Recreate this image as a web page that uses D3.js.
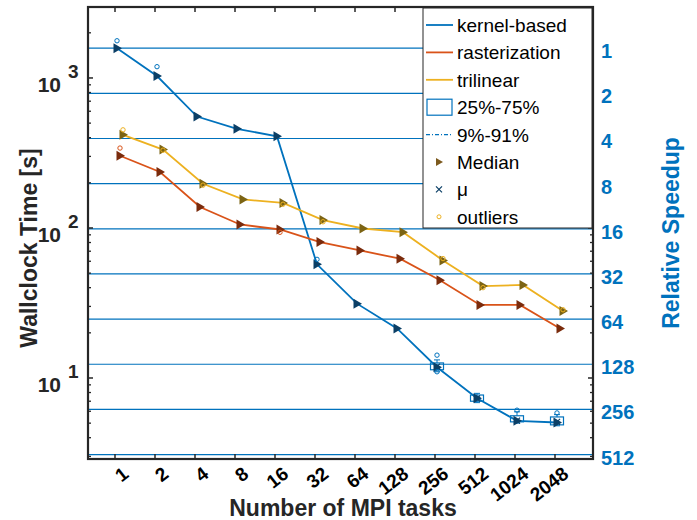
<!DOCTYPE html>
<html>
<head>
<meta charset="utf-8">
<script src="https://cdn.jsdelivr.net/npm/d3@7"></script>
<style>
body { margin: 0; background: #fff; }
text { font-family: "Liberation Sans", Arial, sans-serif; }
</style>
</head>
<body>
<div id="chart"></div>
<script>
// data
var tasks = ["1", "2", "4", "8", "16", "32", "64", "128", "256", "512", "1024", "2048"];
var kernelMedian = [1580, 1030, 553, 458, 408, 57.2, 31.3, 21.4, 11.8, 7.33, 5.18, 5.05];
var rasterMedian = [303, 236, 138, 105.5, 97.7, 80.6, 70.8, 62.4, 44.8, 30.7, 30.7, 21.4];
var trilinearMedian = [418, 333, 197, 155, 147, 113, 99.2, 93.8, 60.8, 41, 41.7, 28];

var kernelOutliers = [[0, 1770], [1, 1189], [5, 61.8], [8, 14.2], [8, 11.0], [10, 6.1], [11, 5.85]];
var rasterOutliers = [[0, 341], [4, 93.6]];
var trilinearOutliers = [[0, 451], [1, 330], [2, 193], [4, 144], [5, 110], [8, 62.5], [9, 40], [11, 28.5]];

// box data for kernel-based (only the visible ones)
var kernelBoxIdx = [8, 9, 10, 11];
var kernelQ25 = [11.35, 7.0, 5.1, 4.87];
var kernelQ75 = [12.6, 7.7, 5.6, 5.5];
var kernelP09 = [11.0, 6.85, 5.0, 4.8];
var kernelP91 = [13.2, 7.9, 5.95, 5.7];
var kernelMean = [11.9, 7.3, 5.2, 5.1];

var speedups = [1, 2, 4, 8, 16, 32, 64, 128, 256, 512];
var yMajor = [10, 100, 1000];

var blue = "#0072BD", red = "#D95319", yellow = "#EDB120", axisCol = "#262626";

var margin = {top: 7, right: 104, bottom: 61, left: 88};
var w = 697 - margin.left - margin.right;
var h = 520 - margin.top - margin.bottom;

var svg = d3.select("#chart")
  .append("svg")
    .attr("width", 697)
    .attr("height", 520)
  .append("g")
    .attr("transform", "translate(" + margin.left + "," + margin.top + ")");

var x = d3.scaleLinear()
  .domain([-0.675, 11.95])
  .range([0, w]);

var y = d3.scaleLog()
  .domain([2.884, 2972])
  .range([h, 0]);

var T1 = kernelMedian[0];

// speedup grid lines
svg.selectAll(".grid")
  .data(speedups)
  .enter()
  .append("line")
  .attr("x1", 0)
  .attr("x2", w)
  .attr("y1", function(d) { return y(T1 / d); })
  .attr("y2", function(d) { return y(T1 / d); })
  .attr("stroke", blue)
  .attr("stroke-width", 1.2);

var series = [
  {vals: kernelMedian, col: blue, tri: "#0B3F66", off: 2, out: kernelOutliers},
  {vals: rasterMedian, col: red, tri: "#7A2B0C", off: 5, out: rasterOutliers},
  {vals: trilinearMedian, col: yellow, tri: "#7C6414", off: 8, out: trilinearOutliers}
];

var line = d3.line();

series.forEach(function(s) {
  svg.append("path")
    .attr("d", line(s.vals.map(function(v, i) { return [x(i) + s.off, y(v)]; })))
    .attr("fill", "none")
    .attr("stroke", s.col)
    .attr("stroke-width", 1.8);
});

// kernel boxes
kernelBoxIdx.forEach(function(idx, k) {
  var cx = x(idx) + 2;
  var g = svg.append("g");
  g.append("line")
    .attr("x1", cx).attr("x2", cx)
    .attr("y1", y(kernelQ75[k])).attr("y2", y(kernelP91[k]))
    .attr("stroke", blue).attr("stroke-dasharray", "3,1,1,1");
  g.append("line")
    .attr("x1", cx).attr("x2", cx)
    .attr("y1", y(kernelQ25[k])).attr("y2", y(kernelP09[k]))
    .attr("stroke", blue).attr("stroke-dasharray", "3,1,1,1");
  g.append("line")
    .attr("x1", cx - 3).attr("x2", cx + 3)
    .attr("y1", y(kernelP91[k])).attr("y2", y(kernelP91[k]))
    .attr("stroke", blue);
  g.append("line")
    .attr("x1", cx - 3).attr("x2", cx + 3)
    .attr("y1", y(kernelP09[k])).attr("y2", y(kernelP09[k]))
    .attr("stroke", blue);
  g.append("rect")
    .attr("x", cx - 6.5)
    .attr("y", y(kernelQ75[k]))
    .attr("width", 13)
    .attr("height", y(kernelQ25[k]) - y(kernelQ75[k]))
    .attr("fill", "none")
    .attr("stroke", blue)
    .attr("stroke-width", 1.2);
  g.append("path")
    .attr("transform", "translate(" + cx + "," + y(kernelMean[k]) + ")")
    .attr("d", "M-3,-3L3,3M-3,3L3,-3")
    .attr("stroke", "#0B3F66")
    .attr("stroke-width", 1.2);
});

// median triangles
series.forEach(function(s) {
  svg.selectAll(null)
    .data(s.vals)
    .enter()
    .append("path")
    .attr("transform", function(d, i) { return "translate(" + (x(i) + s.off) + "," + y(d) + ")"; })
    .attr("d", "M-3.5,-5L5,0L-3.5,5Z")
    .attr("fill", s.tri);
});

// outliers
series.forEach(function(s) {
  svg.selectAll(null)
    .data(s.out)
    .enter()
    .append("circle")
    .attr("cx", function(d) { return x(d[0]) + s.off; })
    .attr("cy", function(d) { return y(d[1]); })
    .attr("r", 2.2)
    .attr("fill", "none")
    .attr("stroke", s.col)
    .attr("stroke-width", 1);
});

// minor ticks on left and right
var minor = [];
[1, 10, 100, 1000].forEach(function(dec) {
  for (var m = 2; m <= 9; m++) {
    var v = dec * m;
    if (v >= y.domain()[0] && v <= y.domain()[1]) minor.push(v);
  }
});

[0, w].forEach(function(px) {
  var dir = px === 0 ? 1 : -1;
  svg.selectAll(null)
    .data(minor)
    .enter()
    .append("line")
    .attr("x1", px).attr("x2", px + dir * 3)
    .attr("y1", function(d) { return y(d); })
    .attr("y2", function(d) { return y(d); })
    .attr("stroke", axisCol)
    .attr("stroke-width", 1.3);
  svg.selectAll(null)
    .data(yMajor)
    .enter()
    .append("line")
    .attr("x1", px).attr("x2", px + dir * 5)
    .attr("y1", function(d) { return y(d); })
    .attr("y2", function(d) { return y(d); })
    .attr("stroke", axisCol)
    .attr("stroke-width", 1.5);
});

// x ticks top and bottom
[0, h].forEach(function(py) {
  var dir = py === 0 ? 1 : -1;
  svg.selectAll(null)
    .data(tasks)
    .enter()
    .append("line")
    .attr("x1", function(d, i) { return x(i); })
    .attr("x2", function(d, i) { return x(i); })
    .attr("y1", py).attr("y2", py + dir * 5)
    .attr("stroke", axisCol)
    .attr("stroke-width", 1.5);
});

// frame
svg.append("rect")
  .attr("width", w)
  .attr("height", h)
  .attr("fill", "none")
  .attr("stroke", axisCol)
  .attr("stroke-width", 2.2);

// left tick labels 10^n
yMajor.forEach(function(v) {
  var ty = y(v);
  svg.append("text")
    .attr("x", -27).attr("y", ty + 14)
    .attr("text-anchor", "end")
    .attr("font-size", 21)
    .attr("font-weight", "bold")
    .attr("fill", axisCol)
    .text("10");
  svg.append("text")
    .attr("x", -20).attr("y", ty)
    .attr("font-size", 19)
    .attr("font-weight", "bold")
    .attr("fill", axisCol)
    .text(Math.round(Math.log10(v)));
});

// right tick labels (speedup)
svg.selectAll(".rlab")
  .data(speedups)
  .enter()
  .append("text")
  .attr("x", w + 8)
  .attr("y", function(d) { return y(T1 / d) + 10; })
  .attr("font-size", 20)
  .attr("font-weight", "bold")
  .attr("fill", blue)
  .text(function(d) { return d; });

// x tick labels
svg.selectAll(".xlab")
  .data(tasks)
  .enter()
  .append("text")
  .attr("transform", function(d, i) { return "translate(" + (x(i) + 6) + "," + (h + 6) + ") rotate(-38)"; })
  .attr("text-anchor", "end")
  .attr("dy", "0.75em")
  .attr("font-size", 19)
  .attr("font-weight", "bold")
  .attr("fill", "#000")
  .text(function(d) { return d; });

// axis titles
svg.append("text")
  .attr("transform", "rotate(-90)")
  .attr("x", -(248 - margin.top))
  .attr("y", 37 - margin.left)
  .attr("text-anchor", "middle")
  .attr("font-size", 23)
  .attr("font-weight", "bold")
  .attr("fill", axisCol)
  .text("Wallclock Time [s]");

svg.append("text")
  .attr("x", 343 - margin.left)
  .attr("y", 516 - margin.top)
  .attr("text-anchor", "middle")
  .attr("font-size", 23)
  .attr("font-weight", "bold")
  .attr("fill", axisCol)
  .text("Number of MPI tasks");

svg.append("text")
  .attr("transform", "rotate(-90)")
  .attr("x", -(233 - margin.top))
  .attr("y", 679 - margin.left)
  .attr("text-anchor", "middle")
  .attr("font-size", 23)
  .attr("font-weight", "bold")
  .attr("fill", blue)
  .text("Relative Speedup");

// legend
var legendLabels = ["kernel-based", "rasterization", "trilinear", "25%-75%", "9%-91%", "Median", "\u03bc", "outliers"];
var lg = svg.append("g")
  .attr("transform", "translate(" + (423 - margin.left) + "," + (8 - margin.top) + ")");

lg.append("rect")
  .attr("width", 169)
  .attr("height", 220)
  .attr("fill", "#fff")
  .attr("stroke", axisCol)
  .attr("stroke-width", 1);

legendLabels.forEach(function(t, i) {
  var ry = 17 + i * 27.4;
  var row = lg.append("g").attr("transform", "translate(0," + ry + ")");
  if (i < 3) {
    row.append("line")
      .attr("x1", 3).attr("x2", 30).attr("y1", 0).attr("y2", 0)
      .attr("stroke", [blue, red, yellow][i]).attr("stroke-width", 1.8);
  } else if (i === 3) {
    row.append("rect")
      .attr("x", 4).attr("y", -8).attr("width", 25).attr("height", 16)
      .attr("fill", "none").attr("stroke", blue).attr("stroke-width", 1.2);
  } else if (i === 4) {
    row.append("line")
      .attr("x1", 3).attr("x2", 30).attr("y1", 0).attr("y2", 0)
      .attr("stroke", blue).attr("stroke-width", 1.2)
      .attr("stroke-dasharray", "4,2,1,2");
  } else if (i === 5) {
    row.append("path")
      .attr("transform", "translate(16,0)")
      .attr("d", "M-3,-4L4,0L-3,4Z")
      .attr("fill", "#7C5A1E");
  } else if (i === 6) {
    row.append("path")
      .attr("transform", "translate(16,0)")
      .attr("d", "M-3,-3L3,3M-3,3L3,-3")
      .attr("stroke", "#0B3F66").attr("stroke-width", 1.2);
  } else {
    row.append("circle")
      .attr("cx", 16).attr("cy", 0).attr("r", 2)
      .attr("fill", "none").attr("stroke", yellow);
  }
  row.append("text")
    .attr("x", 34)
    .attr("y", 7)
    .attr("font-size", 19)
    .attr("fill", "#000")
    .text(t);
});
</script>
</body>
</html>
